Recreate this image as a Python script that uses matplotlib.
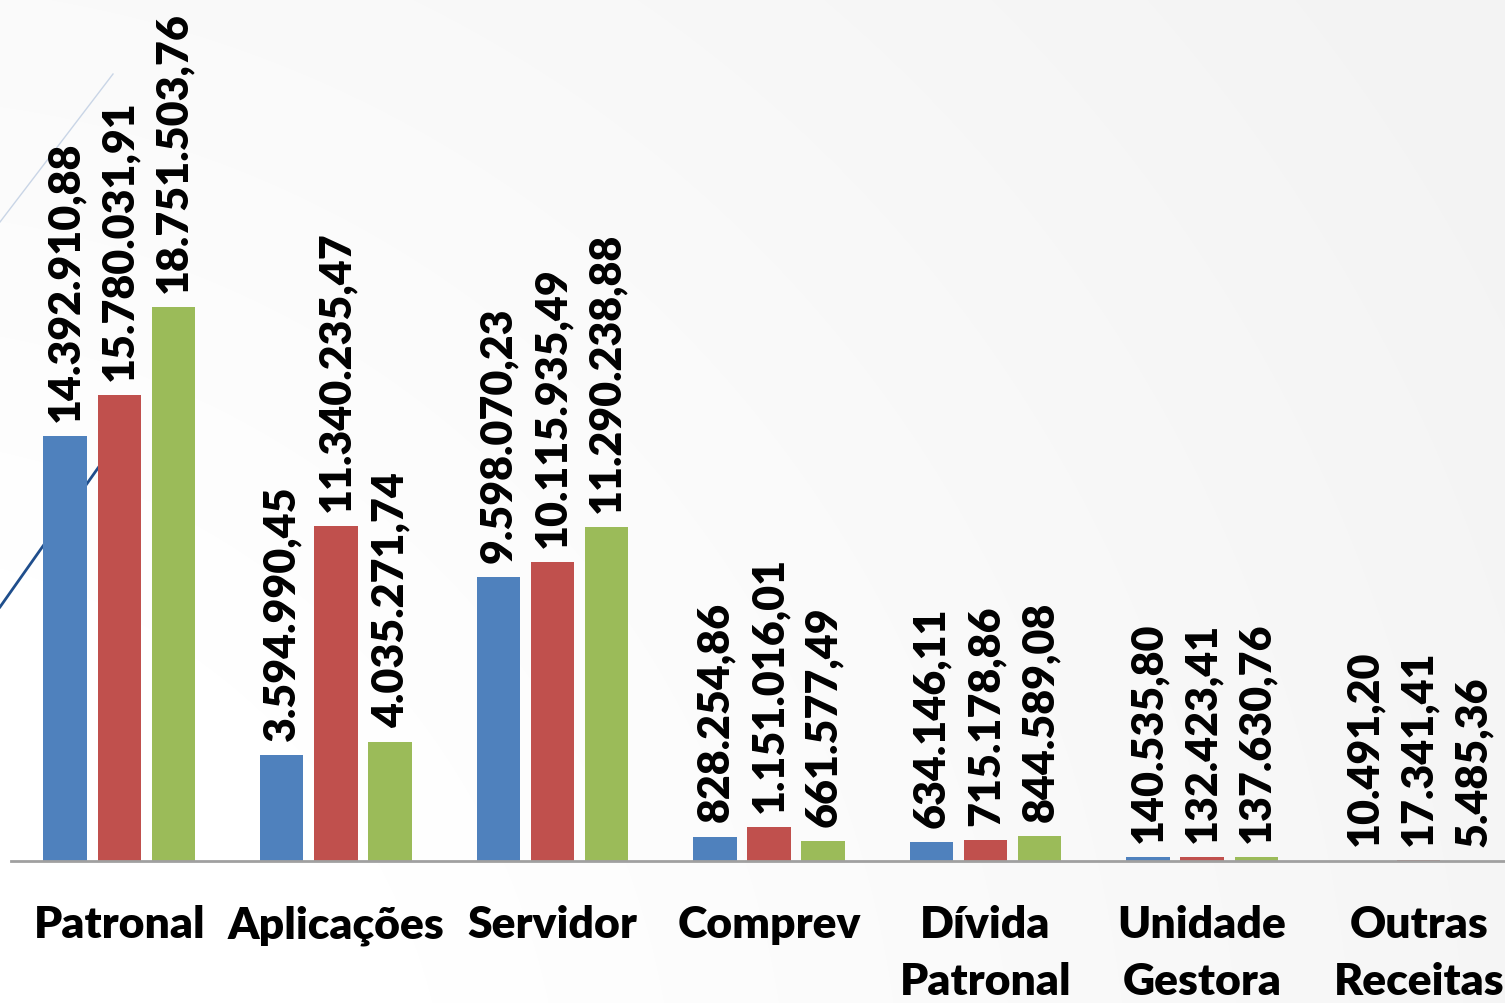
import numpy as np
import matplotlib
matplotlib.use("Agg")
import matplotlib.pyplot as plt
from matplotlib.lines import Line2D

plt.rcParams['font.family'] = ['Lato', 'DejaVu Sans']

# data
categorias = ["Patronal", "Aplicações", "Servidor", "Comprev",
              "Dívida\nPatronal", "Unidade\nGestora", "Outras\nReceitas"]
serie1 = [14392910.88, 3594990.45, 9598070.23, 828254.86, 634146.11, 140535.80, 10491.20]
serie2 = [15780031.91, 11340235.47, 10115935.49, 1151016.01, 715178.86, 132423.41, 17341.41]
serie3 = [18751503.76, 4035271.74, 11290238.88, 661577.49, 844589.08, 137630.76, 5485.36]
rotulos1 = ["14.392.910,88", "3.594.990,45", "9.598.070,23", "828.254,86", "634.146,11", "140.535,80", "10.491,20"]
rotulos2 = ["15.780.031,91", "11.340.235,47", "10.115.935,49", "1.151.016,01", "715.178,86", "132.423,41", "17.341,41"]
rotulos3 = ["18.751.503,76", "4.035.271,74", "11.290.238,88", "661.577,49", "844.589,08", "137.630,76", "5.485,36"]

cores = ["#4F81BD", "#C0504D", "#9BBB59"]
peso = 'heavy'

W, H = 1505, 1004
fig = plt.figure(figsize=(W / 100, H / 100), dpi=100)

# fundo do slide (gradiente suave)
bg = fig.add_axes([0, 0, 1, 1], zorder=0)
yy, xx = np.mgrid[0:H, 0:W]
r = np.sqrt((xx + 150) ** 2 + (yy - 1150) ** 2)
g = 1.0 - 0.045 * np.clip((r - 600) / 1300, 0, 1)
bg.imshow(np.dstack([g, g, g]), extent=[0, W, H, 0], aspect='auto')
bg.set_xlim(0, W)
bg.set_ylim(H, 0)
bg.axis('off')
# linhas decorativas
bg.add_line(Line2D([0, 113], [223, 75], color="#C9D5E6", lw=1))
bg.add_line(Line2D([0, 110], [608, 452], color="#1F4E8C", lw=2))

ax = fig.add_axes([11 / W, (H - 862) / H, (1527 - 11) / W, 862 / H], zorder=1)
ax.patch.set_alpha(0)

x = np.arange(len(categorias))
larg = 0.2
for k, (vals, rot) in enumerate([(serie1, rotulos1), (serie2, rotulos2), (serie3, rotulos3)]):
    pos = x + (k - 1) * 0.25
    ax.bar(pos, vals, width=larg, color=cores[k], edgecolor='none', zorder=2)
    for p, v, t in zip(pos, vals, rot):
        ax.annotate(t, (p, v), xytext=(0, 11), textcoords='offset points',
                    rotation=90, ha='center', va='bottom', fontsize=31,
                    fontweight=peso, color='black')

ax.set_xlim(-0.5, 6.5)
ax.set_ylim(0, 2.918e7)
ax.set_yticks([])
ax.set_xticks(x)
ax.set_xticklabels(categorias, fontsize=32, fontweight=peso, linespacing=1.5)
ax.tick_params(axis='x', length=0, pad=31)
for s in ['top', 'right', 'left']:
    ax.spines[s].set_visible(False)
ax.spines['bottom'].set_color('#A0A0A0')
ax.spines['bottom'].set_linewidth(2)

fig.savefig("out.png", dpi=100)
